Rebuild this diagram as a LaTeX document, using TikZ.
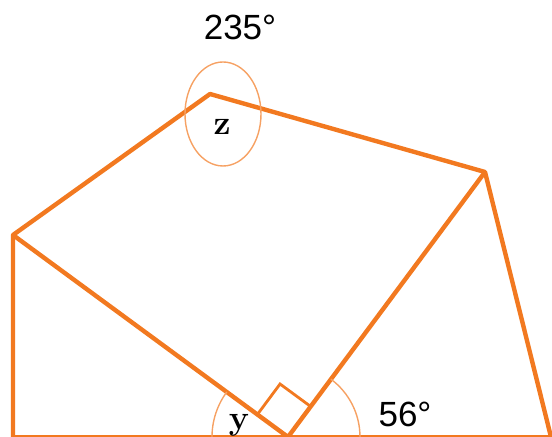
\documentclass[tikz,border=0pt]{standalone}
\usepackage{fontspec}
\newfontfamily\numfont{Liberation Sans}
\usetikzlibrary{calc}
\definecolor{edgeorange}{RGB}{242,121,32}
\begin{document}
\begin{tikzpicture}[x=0.5pt,y=0.5pt,
  edge/.style={draw=edgeorange,line width=2.2pt,line join=round},
  anglemark/.style={draw=edgeorange!70!white,line width=0.7pt},
  numlbl/.style={font=\numfont\fontsize{17.5}{20}\selectfont,anchor=base,inner sep=0pt},
  varlbl/.style={font=\bfseries\fontsize{17}{20}\selectfont,anchor=base,inner sep=0pt}]
  \useasboundingbox (0,0) rectangle (552,437);
  \coordinate (a) at (13,202);
  \coordinate (bl) at (13,0);
  \coordinate (z) at (210,343);
  \coordinate (r) at (485,265);
  \coordinate (p) at (288,0);
  \coordinate (br) at (551,0);
  % outline
  \draw[edge] (bl) -- (a) -- (z) -- (r) -- (br);
  \draw[edge] (a) -- (p) -- (r);
  \draw[edge] (bl) -- (br);
  % right angle at p
  \coordinate (qa) at ($(p)!19pt!(a)$);
  \coordinate (qr) at ($(p)!19pt!(r)$);
  \draw[edgeorange,line width=1.4pt] (qa) -- ($(qa)+(qr)-(p)$) -- (qr);
  % angle marks
  \draw[anglemark] ($(p)+(-38pt,0)$) arc[start angle=180,end angle=143.7,radius=38pt];
  \draw[anglemark] ($(p)+(36pt,0)$) arc[start angle=0,end angle=53.4,radius=36pt];
  \draw[anglemark] (223,323) ellipse[x radius=19pt,y radius=26pt];
  % labels
  \node[numlbl] (top) at (240,397){235°};
  \node[numlbl] (low) at (405,10){56°};
  \node[varlbl] (zl) at (222,302){z};
  \node[varlbl] (yl) at (239,7){y};
\end{tikzpicture}
\end{document}
